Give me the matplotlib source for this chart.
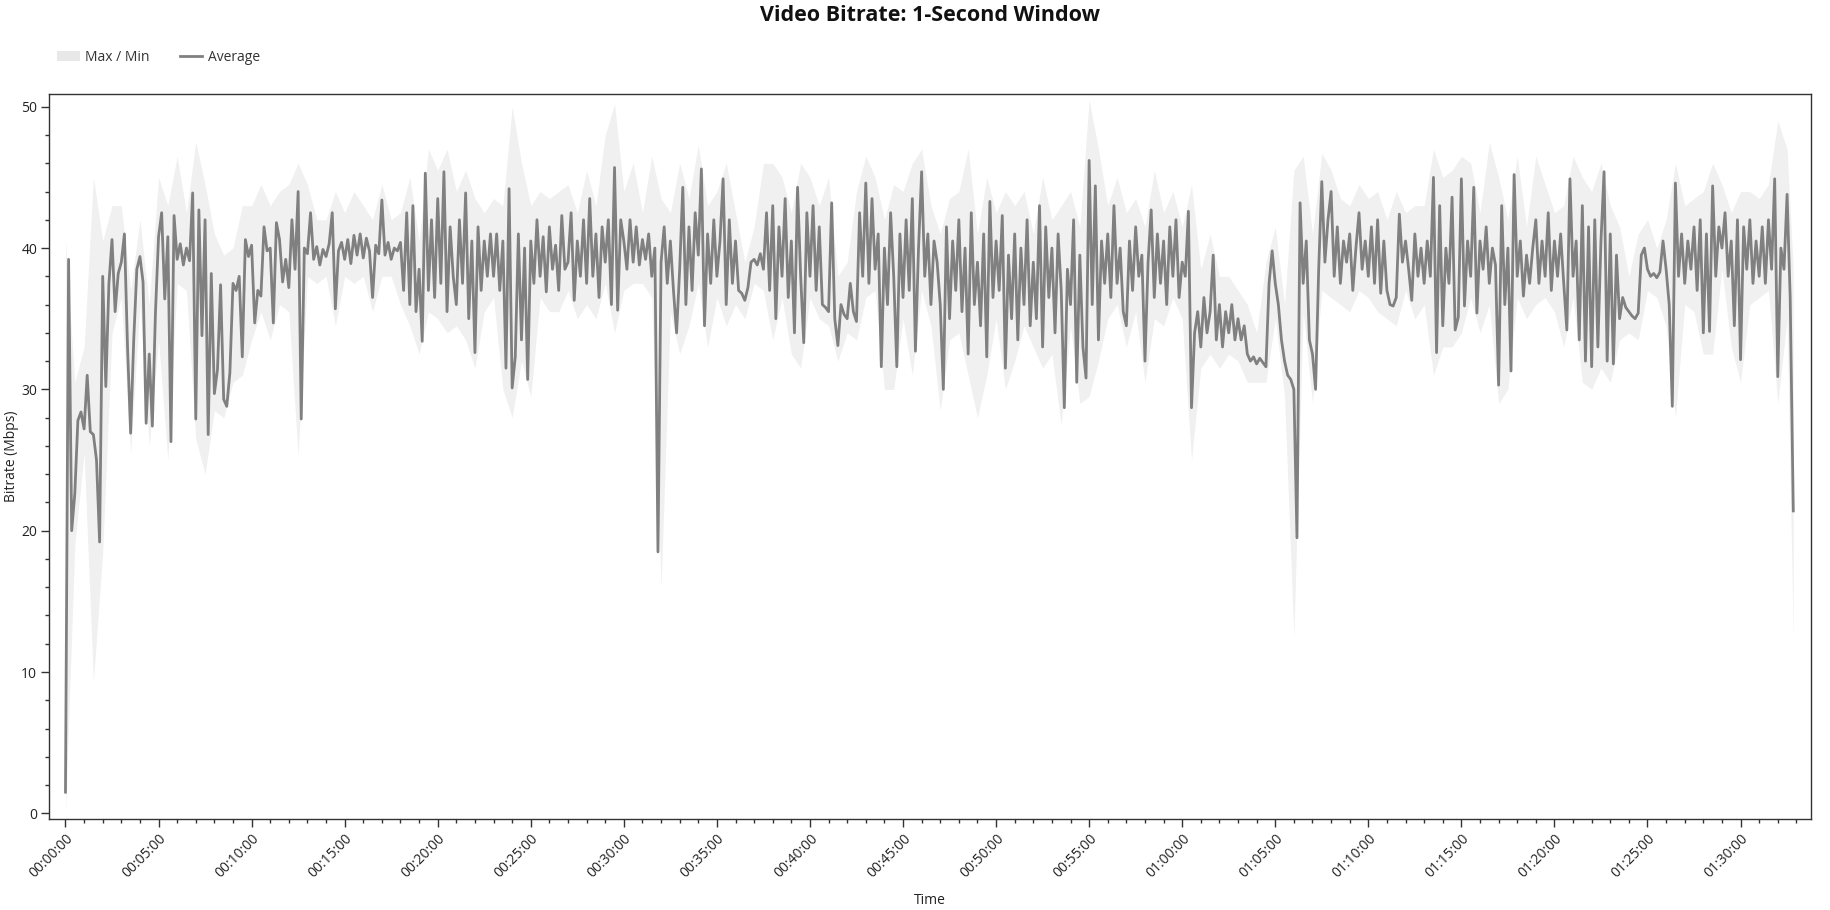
import numpy as np
import matplotlib
matplotlib.use("Agg")
import matplotlib.pyplot as plt
from matplotlib.patches import Patch
from matplotlib.lines import Line2D
from matplotlib.ticker import MultipleLocator, FuncFormatter

plt.rcParams['font.family'] = ['Open Sans', 'DejaVu Sans']

# Average bitrate (Mbps), one reading every 10 s, one row per minute
avg_mbps = [
    1.5, 39.2, 20.0, 22.6, 27.8, 28.4,
    27.2, 31.0, 27.0, 26.8, 25.0, 19.2,
    38.0, 30.2, 37.5, 40.6, 35.5, 38.2,
    39.0, 41.0, 33.0, 26.9, 33.5, 38.5,
    39.4, 37.6, 27.6, 32.5, 27.4, 35.4,
    40.8, 42.5, 36.4, 40.8, 26.3, 42.3,
    39.2, 40.3, 38.8, 40.0, 39.1, 43.9,
    27.9, 42.7, 33.8, 42.0, 26.8, 38.2,
    29.7, 31.4, 37.4, 29.3, 28.8, 31.2,
    37.5, 37.0, 38.0, 32.3, 40.6, 39.4,
    40.2, 34.7, 37.0, 36.6, 41.5, 39.8,
    40.0, 34.7, 41.8, 40.6, 37.6, 39.2,
    37.2, 42.0, 38.5, 44.0, 27.9, 40.0,
    39.6, 42.5, 39.2, 40.1, 38.8, 39.9,
    39.4, 40.3, 42.5, 35.7, 39.8, 40.4,
    39.2, 40.6, 38.9, 40.9, 39.5, 41.0,
    39.3, 40.7, 39.8, 36.5, 40.2, 39.6,
    43.4, 39.5, 40.4, 39.2, 40.0, 39.8,
    40.4, 37.0, 42.5, 36.0, 43.0, 35.5,
    38.5, 33.4, 45.3, 37.0, 42.0, 36.5,
    43.5, 37.5, 45.4, 35.5, 41.5, 38.0,
    36.0, 42.0, 37.5, 43.9, 35.0, 40.5,
    32.6, 41.5, 37.0, 40.5, 38.0, 41.0,
    38.0, 41.0, 37.0, 40.5, 31.5, 44.2,
    30.1, 32.3, 41.0, 33.5, 40.0, 30.7,
    40.5, 37.5, 42.0, 38.0, 40.8, 36.9,
    41.5, 38.5, 40.2, 37.0, 42.3, 38.5,
    39.0, 42.5, 36.3, 40.5, 38.0, 42.0,
    37.5, 43.5, 38.0, 41.0, 36.5, 41.5,
    39.0, 42.0, 36.0, 45.7, 35.6, 42.0,
    40.5, 38.5, 42.0, 39.0, 41.5, 38.8,
    40.6, 39.2, 41.0, 38.0, 40.0, 18.5,
    39.0, 41.5, 37.5, 40.5, 37.0, 34.0,
    38.5, 44.3, 36.0, 41.5, 37.0, 42.5,
    39.5, 45.6, 34.5, 41.0, 37.5, 42.0,
    38.0, 40.5, 44.9, 36.0, 42.0, 37.5,
    40.5, 37.0, 36.8, 36.3, 37.2, 39.0,
    39.2, 38.8, 39.6, 38.5, 42.5, 37.0,
    43.0, 35.0, 41.5, 38.0, 43.5, 36.5,
    40.5, 34.0, 44.3, 38.0, 33.3, 42.5,
    38.0, 43.0, 37.0, 41.5, 36.0, 35.8,
    35.5, 43.2, 35.0, 33.1, 36.0, 35.3,
    35.0, 37.5, 35.5, 34.8, 42.5, 38.0,
    44.6, 37.5, 43.5, 38.5, 41.0, 31.6,
    40.0, 36.0, 42.5, 38.0, 31.6, 41.0,
    36.5, 42.0, 37.0, 43.5, 32.7, 40.0,
    45.4, 38.0, 41.0, 36.0, 40.5, 39.0,
    36.0, 30.0, 41.5, 35.0, 40.5, 37.0,
    42.0, 35.5, 40.0, 32.5, 42.5, 36.0,
    39.0, 34.5, 41.0, 32.3, 43.3, 36.5,
    40.5, 37.0, 42.3, 31.5, 39.5, 35.0,
    41.0, 33.5, 40.0, 36.0, 42.0, 34.5,
    39.0, 35.0, 43.0, 33.0, 41.5, 36.5,
    40.0, 34.0, 41.0, 37.0, 28.7, 38.5,
    36.0, 42.0, 30.5, 39.5, 33.0, 30.8,
    46.2, 36.0, 44.4, 33.5, 40.5, 37.5,
    41.0, 36.5, 43.0, 37.5, 40.0, 35.5,
    34.5, 40.5, 37.0, 41.5, 38.0, 39.5,
    32.0, 39.0, 42.7, 36.5, 41.0, 37.5,
    40.5, 36.0, 41.5, 38.0, 42.0, 36.5,
    39.0, 38.0, 42.6, 28.7, 34.0, 35.5,
    33.0, 36.5, 34.0, 35.5, 39.5, 33.5,
    36.0, 33.0, 35.5, 34.0, 36.0, 33.5,
    35.0, 33.5, 34.5, 32.5, 32.0, 32.3,
    31.8, 32.2, 31.9, 31.6, 37.5, 39.8,
    37.5, 36.0, 33.5, 32.0, 31.0, 30.7,
    30.0, 19.5, 43.2, 37.5, 40.5, 33.5,
    32.5, 30.0, 38.5, 44.7, 39.0, 42.0,
    44.0, 38.0, 41.5, 37.5, 40.5, 39.0,
    41.0, 37.0, 40.0, 42.5, 38.5, 40.5,
    38.0, 41.5, 37.5, 42.0, 36.8, 40.5,
    37.0, 36.0, 35.9, 36.5, 42.4, 39.0,
    40.5, 38.5, 36.3, 41.0, 38.0, 40.0,
    37.5, 40.5, 38.0, 45.0, 32.6, 43.0,
    34.5, 40.0, 37.5, 43.6, 34.2, 35.1,
    44.9, 35.9, 40.5, 38.0, 44.3, 35.4,
    40.5, 38.5, 41.5, 37.5, 40.0, 38.8,
    30.3, 43.0, 36.0, 40.0, 31.3, 45.2,
    38.0, 40.5, 36.6, 39.5, 37.5, 40.0,
    42.0, 37.5, 40.5, 38.0, 42.5, 37.0,
    40.5, 38.0, 41.0, 37.5, 34.2, 44.9,
    38.0, 40.5, 33.5, 43.0, 32.0, 41.5,
    31.6, 42.0, 33.0, 40.5, 45.4, 32.0,
    41.0, 31.8, 39.5, 35.0, 36.5, 35.8,
    35.5, 35.2, 35.0, 35.4, 39.5, 40.0,
    38.5, 38.0, 38.2, 37.9, 38.3, 40.5,
    38.5, 36.0, 28.8, 44.6, 38.0, 41.0,
    37.5, 40.5, 38.5, 41.5, 37.0, 42.0,
    34.0, 41.0, 34.1, 44.4, 38.0, 41.5,
    40.0, 42.5, 38.0, 40.5, 34.5, 42.0,
    32.1, 41.5, 38.5, 42.0, 37.5, 40.5,
    38.0, 41.5, 37.5, 42.0, 38.5, 44.9,
    30.9, 40.0, 38.5, 43.8, 36.5, 21.4,
]

# Max / Min envelope, one reading every 30 s (two per minute) plus the last second
max_mbps = [
    40.5, 30.5, 33.0, 45.0, 40.5, 43.0, 43.0, 37.0, 42.0, 36.0,
    45.0, 43.0, 46.5, 42.5, 47.5, 44.5, 41.0, 39.5, 40.0, 43.0,
    43.0, 44.5, 43.0, 44.0, 44.5, 46.0, 44.5, 42.0, 42.0, 44.0,
    42.5, 44.0, 43.0, 42.0, 44.5, 42.0, 42.5, 45.0, 40.5, 47.0,
    45.5, 47.0, 44.0, 45.5, 43.5, 42.5, 43.5, 43.0, 50.0, 46.0,
    43.0, 44.0, 43.5, 44.0, 44.5, 42.5, 45.5, 43.0, 48.0, 50.2,
    44.0, 46.0, 42.5, 46.5, 43.5, 42.5, 46.0, 43.5, 47.3, 43.0,
    44.0, 46.0, 42.5, 39.0, 41.5, 46.0, 46.0, 45.0, 42.5, 46.0,
    45.0, 43.0, 45.0, 38.0, 39.0, 44.0, 46.5, 45.0, 42.0, 44.5,
    44.0, 46.0, 47.0, 43.0, 41.0, 43.5, 44.0, 47.0, 41.0, 45.0,
    42.5, 44.0, 43.0, 44.0, 41.0, 45.0, 42.0, 43.0, 44.0, 41.5,
    50.5, 47.0, 43.0, 45.0, 42.5, 43.5, 41.5, 45.5, 42.5, 44.0,
    41.5, 44.5, 38.5, 41.0, 38.0, 38.0, 37.0, 36.0, 34.0, 39.0,
    41.5, 36.0, 45.5, 46.5, 41.0, 46.7, 45.5, 43.5, 43.0, 44.5,
    43.5, 44.0, 42.0, 44.0, 42.5, 43.0, 43.0, 47.0, 45.0, 45.5,
    46.5, 46.0, 42.5, 47.5, 45.0, 42.0, 46.5, 41.5, 46.5, 44.5,
    42.5, 43.0, 46.5, 45.0, 44.0, 46.0, 43.0, 41.5, 38.0, 41.0,
    42.0, 40.0, 42.0, 46.0, 43.0, 43.5, 44.0, 46.0, 44.5, 42.5,
    44.0, 44.0, 43.5, 44.5, 49.0, 47.0, 38.5,
]
min_mbps = [
    0.0, 19.0, 25.5, 9.3, 18.5, 34.0, 36.5, 25.5, 36.0, 26.0,
    33.5, 25.0, 37.5, 37.0, 26.5, 24.0, 28.5, 28.0, 30.5, 31.0,
    33.5, 35.5, 33.5, 36.0, 35.5, 25.3, 38.0, 37.5, 38.0, 34.5,
    38.0, 37.5, 38.0, 35.5, 38.0, 38.0, 36.0, 34.5, 32.5, 35.5,
    35.0, 34.0, 34.5, 33.5, 31.5, 35.5, 36.5, 30.0, 28.0, 32.0,
    29.5, 36.5, 35.5, 35.5, 37.0, 35.0, 36.0, 35.0, 37.5, 34.0,
    37.0, 37.5, 37.5, 36.5, 16.0, 35.5, 32.5, 34.5, 37.5, 33.0,
    36.5, 34.5, 36.0, 35.0, 37.5, 37.0, 33.5, 36.5, 32.5, 31.5,
    36.5, 35.0, 34.5, 32.0, 34.0, 33.5, 36.5, 37.0, 30.0, 30.0,
    35.0, 31.0, 37.0, 34.5, 28.5, 33.5, 34.0, 31.0, 28.0, 31.0,
    35.0, 30.0, 32.0, 34.5, 33.0, 31.5, 32.5, 27.5, 34.5, 29.0,
    29.5, 32.0, 35.0, 36.0, 33.0, 35.5, 30.5, 35.0, 34.5, 36.5,
    35.0, 25.0, 31.5, 32.5, 31.5, 32.5, 32.0, 30.5, 30.5, 30.5,
    35.0, 29.5, 12.5, 35.5, 29.0, 37.0, 36.5, 36.0, 35.5, 37.0,
    36.5, 35.5, 35.0, 34.5, 37.0, 35.0, 36.0, 31.0, 33.0, 33.0,
    34.0, 36.5, 34.0, 36.0, 29.0, 30.0, 36.5, 35.0, 36.0, 36.5,
    35.5, 33.0, 36.5, 30.5, 30.0, 31.5, 30.5, 33.5, 34.0, 33.5,
    37.0, 36.5, 34.5, 28.0, 36.0, 35.5, 32.5, 32.5, 38.5, 33.0,
    30.5, 36.0, 36.5, 37.0, 29.0, 35.0, 12.3,
]

avg_t = np.arange(len(avg_mbps)) * 10
band_t = np.r_[np.arange(0, 5560, 30), 5570]

line_col = '#808080'
band_col = '#f0f0f0'

fig = plt.figure(figsize=(18.3, 9.1), dpi=100)
ax = fig.add_axes([0.0268, 0.1000, 0.9628, 0.7967])

ax.fill_between(band_t, min_mbps, max_mbps, color=band_col, linewidth=0)
ax.plot(avg_t, avg_mbps, color=line_col, linewidth=2.0)

ax.set_xlim(-53, 5627)
ax.set_ylim(-0.4, 50.9)

ax.xaxis.set_major_locator(MultipleLocator(300))
ax.xaxis.set_minor_locator(MultipleLocator(60))
ax.yaxis.set_major_locator(MultipleLocator(10))
ax.yaxis.set_minor_locator(MultipleLocator(2))

def hms(x, pos):
    s = int(round(x))
    return f"{s // 3600:02d}:{(s % 3600) // 60:02d}:{s % 60:02d}"

ax.xaxis.set_major_formatter(FuncFormatter(hms))
ax.tick_params(axis='both', which='major', length=6, width=1, color='#333333',
               labelsize=10, labelcolor='#222222', pad=2.5)
ax.tick_params(axis='both', which='minor', length=3, width=1, color='#333333')
for lab in ax.get_xticklabels():
    lab.set_rotation(45)
    lab.set_ha('right')
    lab.set_rotation_mode('anchor')

for sp in ax.spines.values():
    sp.set_color('#333333')
    sp.set_linewidth(1.0)

ax.set_xlabel('Time', fontsize=10, color='#222222')
ax.xaxis.set_label_coords(0.5, -0.102)
ax.set_ylabel('Bitrate (Mbps)', fontsize=10, color='#222222')
ax.yaxis.set_label_coords(-0.0172, 0.5)

fig.text(0.508, 0.983, 'Video Bitrate: 1-Second Window', ha='center', va='center',
         fontsize=15.5, fontweight='bold', color='#111111')

handles = [Patch(facecolor='#e8e8e8', edgecolor='none'),
           Line2D([0], [0], color=line_col, linewidth=2)]
fig.legend(handles, ['Max / Min', 'Average'], loc='center left',
           bbox_to_anchor=(0.0245, 0.937), ncol=2, frameon=False, fontsize=10,
           handlelength=1.6, handletextpad=0.4, columnspacing=2.2,
           labelcolor='#333333')

fig.savefig('out.png', dpi=100)
